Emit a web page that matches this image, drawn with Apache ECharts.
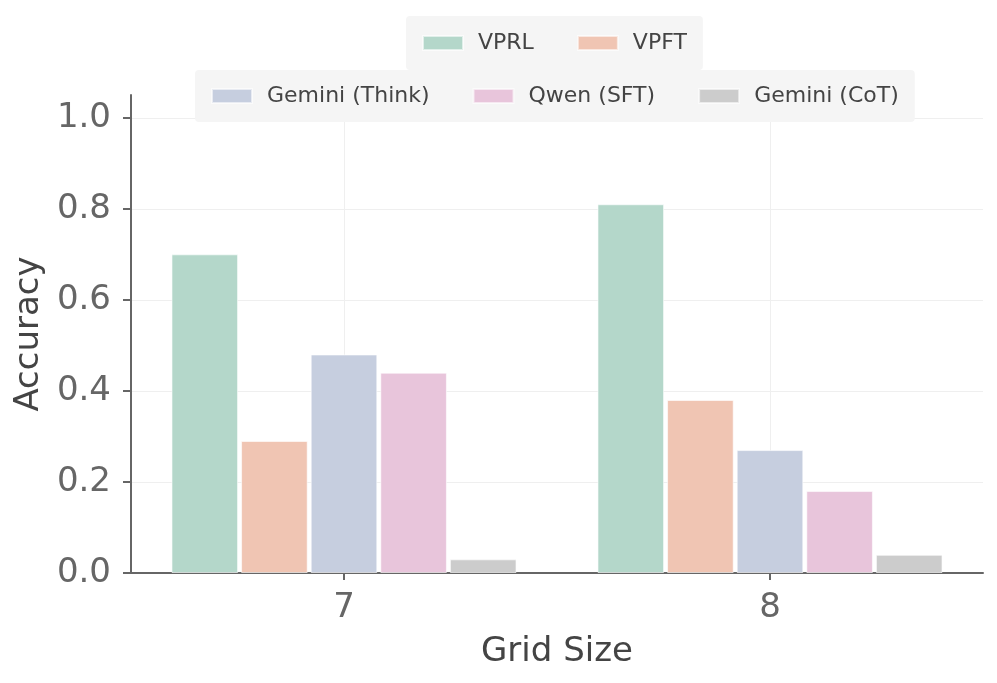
<!DOCTYPE html>
<html>
<head>
<meta charset="utf-8">
<script src="https://cdn.jsdelivr.net/npm/echarts@6/dist/echarts.min.js"></script>
<style>
html,body{margin:0;padding:0;background:#fff;}
#chart{width:997px;height:683px;}
</style>
</head>
<body>
<div id="chart"></div>
<script>
const categories = ['7', '8'];
const seriesNames = ['VPRL', 'VPFT', 'Gemini (Think)', 'Qwen (SFT)', 'Gemini (CoT)'];
const vprl = [0.70, 0.81];
const vpft = [0.29, 0.38];
const geminiThink = [0.48, 0.27];
const qwenSft = [0.44, 0.18];
const geminiCot = [0.03, 0.04];
const yTicks = [0, 0.2, 0.4, 0.6, 0.8, 1.0];
const colors = ['#b4d7ca', '#f0c5b3', '#c6cedf', '#e8c5db', '#cccccc'];

const seriesData = [vprl, vpft, geminiThink, qwenSft, geminiCot];
const FONT = 'DejaVu Sans';

const chart = echarts.init(document.getElementById('chart'), null, {renderer: 'canvas'});

const legendCommon = {
  orient: 'horizontal',
  itemWidth: 40,
  itemHeight: 14,
  itemGap: 43,
  backgroundColor: '#f5f5f5',
  borderRadius: 4,
  padding: [16, 16, 16, 16],
  textStyle: {fontFamily: FONT, fontSize: 22, color: '#444', padding: [0, 0, 0, 10]},
  icon: 'rect'
};

const option = {
  backgroundColor: '#fff',
  animation: false,
  color: colors,
  legend: [
    Object.assign({}, legendCommon, {data: seriesNames.slice(0, 2), left: 406, top: 16}),
    Object.assign({}, legendCommon, {data: seriesNames.slice(2), left: 195, top: 70, padding: [15, 16, 15, 16]})
  ],
  grid: {left: 131, right: 14, top: 95, bottom: 110, containLabel: false},
  xAxis: {
    type: 'category',
    data: categories,
    name: 'Grid Size',
    nameLocation: 'middle',
    nameGap: 62,
    nameTextStyle: {fontFamily: FONT, fontSize: 34, color: '#444'},
    axisLine: {lineStyle: {color: '#666', width: 2}},
    axisTick: {show: true, alignWithLabel: true, length: 7, lineStyle: {color: '#666', width: 2}},
    axisLabel: {fontFamily: FONT, fontSize: 34, color: '#666', margin: 18},
    splitLine: {show: true, alignWithLabel: true, lineStyle: {color: '#efefef', width: 1}}
  },
  yAxis: {
    type: 'value',
    min: 0,
    max: 1.05,
    interval: 0.2,
    name: 'Accuracy',
    nameLocation: 'middle',
    nameGap: 80,
    nameTextStyle: {fontFamily: FONT, fontSize: 34, color: '#444'},
    axisLine: {show: true, lineStyle: {color: '#666', width: 2}},
    axisTick: {show: true, length: 8, customValues: yTicks, lineStyle: {color: '#666', width: 2}},
    axisLabel: {fontFamily: FONT, fontSize: 34, color: '#666', margin: 20, customValues: yTicks,
      formatter: v => v.toFixed(1)},
    splitLine: {show: true, lineStyle: {color: ['#efefef','#efefef','#efefef','#efefef','#efefef','#efefef','rgba(0,0,0,0)'], width: 1}}
  },
  series: seriesNames.map((n, i) => ({
    name: n,
    type: 'bar',
    data: seriesData[i],
    barCategoryGap: '19%',
    barGap: '4.5%',
    itemStyle: {color: colors[i], borderColor: 'rgba(255,255,255,0.6)', borderWidth: 1}
  }))
};
chart.setOption(option);
</script>
</body>
</html>
